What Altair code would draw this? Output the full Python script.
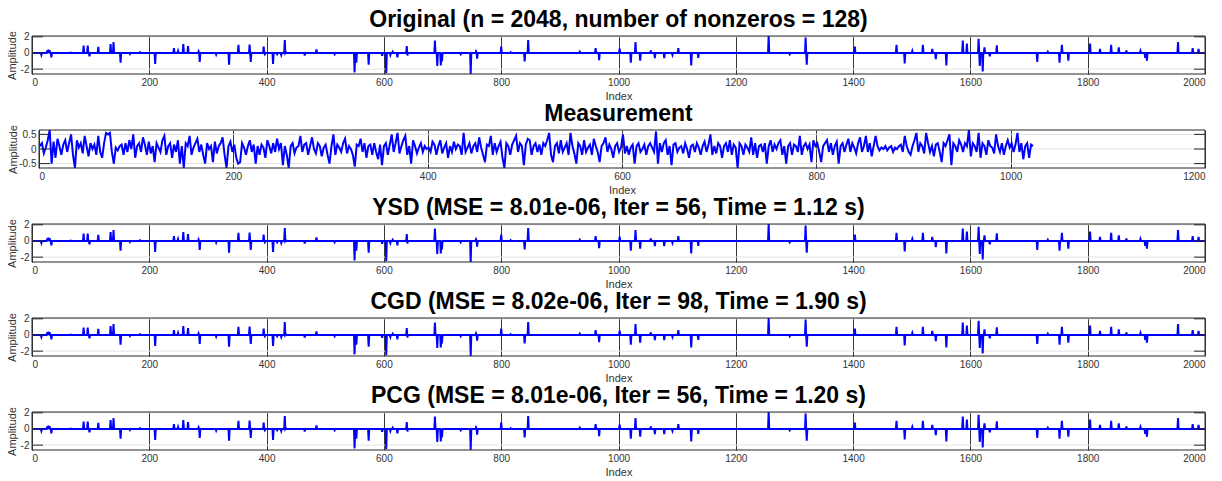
import altair as alt
import numpy as np
import pandas as pd

N = 2048
spike_idx = [16, 26, 28, 30, 33, 66, 88, 95, 98, 113, 134, 139, 151, 167, 184,
             210, 242, 249, 258, 266, 284, 286, 314, 336, 352, 371, 373, 395, 397,
             411, 418, 425, 431, 433, 465, 485, 516, 550, 553, 574, 597, 604, 611,
             615, 623, 639, 640, 687, 691, 697, 699, 731, 748, 757, 759, 800, 816,
             840, 846, 934, 961, 967, 1002, 1021, 1029, 1037, 1055, 1062, 1078,
             1092, 1102, 1124, 1136, 1256, 1292, 1319, 1321, 1403, 1474, 1488,
             1501, 1519, 1535, 1541, 1559, 1587, 1594, 1614, 1616, 1621, 1624,
             1633, 1645, 1714, 1732, 1752, 1756, 1767, 1804, 1821, 1840, 1853,
             1866, 1890, 1898, 1901, 1954, 1979, 1989]
spike_val = [-0.25, 0.3, 0.4, 0.35, -0.55, 0.05, 0.9, 0.9, -0.4, 0.75, 1.1, 1.35, -1.2, -0.12, 0.08,
             -1.35, 0.6, 0.25, 1.1, 0.85, 0.2, -1.1, -0.2, -1.45, 1.0, 1.05, -1.1, 0.8, -0.15,
             -1.35, -0.15, -0.25, 1.6, 0.1, -0.3, 0.45, -0.15, -2.4, -1.2, -1.45, -0.35, -2.5, -0.25,
             0.15, -0.55, 0.85, -0.3, 1.55, -1.6, -1.55, -1.05, -0.15, -2.6, 0.2, -0.7, 0.8, 0.1,
             -1.05, 1.6, 0.15, 0.6, -0.9, 0.55, -1.2, 1.35, -0.95, 0.3, -0.65, -0.65,
             -0.25, 0.6, -1.55, -0.6, 2.1, -0.15, 1.9, -1.45, 0.8, 1.0, -1.3,
             0.25, 1.0, 0.5, -0.75, -1.55, 1.55, 1.15, 1.75, -1.6, -2.3, 0.7,
             -0.4, 0.95, -1.1, 0.15, -1.2, 1.0, -0.95, 1.15, 0.5, 1.0, 0.7,
             0.3, 0.25, -0.6, -0.95, 1.35, 0.6, 0.5]

meas_step = 2
meas_vals = [
    0.1, 0.2, -0.15, 0.05, 0.3, 0.65, -0.5, 0.25, -0.3, 0.35, 0.1, -0.2, 0.15, 0.3, -0.1, 0.2,
    0.5, -0.2, -0.65, 0.3, 0.05, 0.2, -0.15, 0.45, 0.1, -0.25, 0.2, 0.0, 0.15, -0.2, 0.45, -0.1,
    -0.3, 0.2, 0.55, 0.5, 0.55, -0.1, -0.5, 0.05, -0.05, 0.1, 0.15, -0.2, 0.2, -0.1, 0.3, 0.0,
    0.5, -0.3, 0.1, 0.2, -0.1, 0.4, 0.15, -0.2, 0.25, -0.15, 0.1, -0.45, 0.2, 0.05, -0.1, 0.3,
    0.45, -0.2, 0.1, 0.2, -0.3, 0.15, -0.1, 0.3, -0.5, 0.1, -0.65, 0.2, 0.1, 0.45, -0.2, 0.05,
    0.2, 0.35, -0.1, 0.15, -0.2, -0.5, 0.2, 0.0, 0.1, -0.45, 0.25, -0.15, 0.1, 0.2, 0.4, -0.2,
    -0.65, 0.1, 0.25, -0.1, 0.15, -0.3, -0.5, -0.45, 0.2, 0.05, -0.2, 0.1, 0.3, -0.1, 0.15, -0.5,
    0.1, -0.2, 0.15, 0.05, -0.3, 0.3, 0.1, -0.15, 0.2, -0.1, 0.35, 0.0, 0.2, -0.55, 0.1, -0.2,
    -0.65, 0.1, 0.2, -0.15, 0.05, 0.1, 0.45, -0.1, 0.15, 0.2, -0.2, 0.1, 0.4, 0.0, -0.15, 0.2,
    0.1, -0.25, 0.05, 0.15, -0.2, -0.5, 0.1, 0.5, -0.2, 0.15, 0.05, -0.1, 0.2, 0.35, -0.15, 0.1,
    0.0, -0.2, -0.6, 0.15, 0.1, 0.35, -0.1, 0.2, -0.3, 0.1, 0.15, -0.2, 0.2, -0.1, -0.35, 0.15,
    -0.55, 0.1, 0.2, -0.2, 0.15, 0.5, -0.1, 0.2, 0.55, -0.15, 0.1, 0.3, 0.45, -0.2, 0.1, -0.5,
    0.3, 0.1, -0.15, 0.05, 0.2, -0.1, 0.1, 0.0, 0.05, -0.1, 0.25, 0.15, -0.2, 0.1, 0.3, -0.15,
    0.05, 0.2, -0.3, 0.1, -0.1, 0.25, 0.0, 0.15, 0.1, -0.2, 0.55, -0.1, 0.05, 0.2, -0.15, 0.1,
    0.2, -0.1, 0.4, 0.05, -0.2, -0.45, 0.15, 0.1, 0.45, -0.2, 0.2, -0.1, 0.1, 0.25, -0.3, -0.65,
    0.2, 0.1, -0.2, 0.15, 0.3, 0.45, -0.1, 0.2, 0.1, -0.55, 0.15, 0.35, 0.3, -0.2, 0.1, 0.2,
    -0.1, 0.15, -0.2, 0.2, 0.1, 0.3, 0.55, -0.2, -0.45, 0.1, 0.2, -0.15, 0.3, -0.1, 0.05, 0.2,
    -0.2, 0.55, 0.1, -0.15, -0.5, 0.2, 0.1, -0.2, 0.3, -0.1, 0.05, 0.15, -0.2, 0.35, 0.1, -0.1,
    -0.45, 0.1, 0.2, 0.4, -0.1, 0.15, 0.0, -0.3, 0.1, 0.2, -0.1, 0.05, 0.5, -0.15, 0.1, -0.2,
    0.05, 0.15, -0.5, 0.1, 0.2, -0.1, 0.0, 0.15, -0.2, 0.1, 0.2, 0.05, -0.1, 0.6, -0.5, 0.2,
    -0.1, 0.2, 0.3, -0.2, 0.1, -0.55, 0.15, 0.2, -0.1, 0.05, 0.1, -0.15, 0.2, 0.0, -0.3, 0.1,
    0.15, -0.1, 0.2, 0.05, -0.2, 0.1, 0.25, -0.1, 0.15, 0.5, -0.2, 0.1, -0.15, 0.2, 0.1, -0.3,
    0.1, 0.2, -0.1, 0.3, -0.2, 0.15, 0.05, -0.65, 0.2, 0.1, -0.2, 0.15, 0.05, -0.1, 0.4, -0.2,
    0.2, -0.3, 0.1, 0.15, -0.1, 0.2, -0.5, 0.1, 0.3, -0.1, 0.15, 0.0, 0.2, 0.3, -0.2, 0.1,
    -0.5, 0.1, 0.2, -0.2, 0.15, 0.1, -0.1, 0.45, -0.2, 0.1, 0.2, 0.0, 0.15, -0.45, 0.3, 0.1,
    0.2, -0.1, -0.45, 0.1, 0.2, 0.3, -0.1, 0.2, -0.2, 0.1, 0.25, -0.5, 0.1, 0.2, -0.1, 0.15,
    0.35, -0.1, 0.2, 0.05, -0.15, 0.2, 0.4, -0.1, 0.1, 0.45, -0.1, 0.2, -0.25, 0.1, 0.45, 0.1,
    -0.05, 0.05, 0.0, 0.1, -0.05, 0.05, 0.1, -0.1, 0.05, 0.0, 0.1, 0.15, -0.1, 0.45, 0.1, -0.1,
    -0.2, 0.1, 0.3, 0.55, -0.1, 0.2, 0.1, -0.15, 0.55, 0.2, -0.1, 0.1, -0.25, 0.15, 0.2, -0.1,
    -0.45, 0.2, 0.1, 0.3, 0.5, -0.55, 0.2, 0.1, -0.1, 0.3, 0.15, -0.1, 0.2, 0.1, 0.65, -0.25,
    0.2, 0.1, -0.1, 0.55, -0.3, 0.2, 0.1, -0.2, 0.3, 0.1, 0.05, -0.15, 0.5, 0.1, -0.1, 0.2,
    -0.2, 0.1, 0.3, 0.05, 0.2, -0.1, 0.15, 0.55, -0.1, 0.2, -0.35, 0.1, 0.2, -0.3, 0.15, 0.1,
]

titles = [
    "Original (n = 2048, number of nonzeros = 128)",
    "Measurement",
    "YSD (MSE = 8.01e-06, Iter = 56, Time = 1.12 s)",
    "CGD (MSE = 8.02e-06, Iter = 98, Time = 1.90 s)",
    "PCG (MSE = 8.01e-06, Iter = 56, Time = 1.20 s)",
]
sig_xticks = [0, 200, 400, 600, 800, 1000, 1200, 1400, 1600, 1800, 2000]
meas_xticks = [0, 200, 400, 600, 800, 1000, 1200]
sig_yticks = [-2, 0, 2]
meas_yticks = [-0.5, 0, 0.5]
sig_ydom = [-2.6, 2.1]
meas_ydom = [-0.65, 0.65]

# build full signal table from the spike lists
sig = np.zeros(N)
sig[np.array(spike_idx) - 1] = spike_val
sig_df = pd.DataFrame({"Index": np.arange(1, N + 1), "Amplitude": sig})
sig_df = sig_df[sig_df["Index"] <= 2000]

meas_df = pd.DataFrame({"Index": 1 + meas_step * np.arange(len(meas_vals)),
                        "Amplitude": meas_vals})

FONT = "Liberation Sans"
FRAME = "#262626"
H = 38
W = 1173
TICK = 11


def panel(df, title, xdom, xticks, ydom, yticks, inset):
    xs = alt.Scale(domain=xdom, nice=False, zero=False, range=[inset, W])
    ys = alt.Scale(domain=ydom, nice=False, zero=False)
    yaxis = alt.Axis(values=yticks, labelExpr="toString(datum.value)",
                     title="Amplitude", grid=False, offset=-inset,
                     titlePadding=3 if inset == 0 else 0)
    tdf = pd.DataFrame({"Amplitude": yticks})
    ygrid = alt.Chart(tdf).mark_rule(color="#e3e3e3", strokeWidth=1).encode(
        y=alt.Y("Amplitude:Q", scale=ys, axis=yaxis),
        x=alt.value(inset), x2=alt.value(W))
    line = alt.Chart(df).mark_line(color="#0000ff", strokeWidth=2, clip=True).encode(
        x=alt.X("Index:Q", scale=xs,
                axis=alt.Axis(values=xticks, labelExpr="toString(datum.value)",
                              title="Index", grid=True, gridColor="#3a3a3a",
                              gridOpacity=1)),
        y=alt.Y("Amplitude:Q", scale=ys, axis=yaxis),
    )
    frame = alt.Chart(pd.DataFrame({"k": [0]})).mark_rect(
        filled=False, stroke=FRAME, strokeWidth=1).encode(
        x=alt.value(inset), x2=alt.value(W), y=alt.value(0), y2=alt.value(H))
    lt = alt.Chart(tdf).mark_rule(color=FRAME, strokeWidth=1).encode(
        y=alt.Y("Amplitude:Q", scale=ys, axis=yaxis),
        x=alt.value(inset), x2=alt.value(inset + TICK))
    rt = alt.Chart(tdf).mark_rule(color=FRAME, strokeWidth=1).encode(
        y=alt.Y("Amplitude:Q", scale=ys, axis=yaxis),
        x=alt.value(W - TICK), x2=alt.value(W))
    return alt.layer(ygrid, line, frame, lt, rt).properties(
        width=W, height=H,
        title=alt.TitleParams(text=title, fontSize=23, fontWeight="bold",
                              font=FONT, color="black", offset=-1))


panels = [
    panel(sig_df, titles[0], [0, 2000], sig_xticks, sig_ydom, sig_yticks, 0),
    panel(meas_df, titles[1], [0, 1200], meas_xticks, meas_ydom, meas_yticks, 7),
    panel(sig_df, titles[2], [0, 2000], sig_xticks, sig_ydom, sig_yticks, 0),
    panel(sig_df, titles[3], [0, 2000], sig_xticks, sig_ydom, sig_yticks, 0),
    panel(sig_df, titles[4], [0, 2000], sig_xticks, sig_ydom, sig_yticks, 0),
]

chart = alt.concat(*panels, columns=1, spacing=0).configure(
    font=FONT, padding={"left": 5, "top": 8, "right": 5, "bottom": 0}
).configure_view(
    stroke="transparent"
).configure_axis(
    labelFont=FONT, labelFontSize=10, labelColor="#333333",
    titleFont=FONT, titleFontSize=11, titleFontWeight="normal", titleColor="#333333",
    domain=False, ticks=False, tickSize=0, labelPadding=3, titlePadding=3,
)

chart.save("out.html", embed_options={"renderer": "svg", "actions": False})
